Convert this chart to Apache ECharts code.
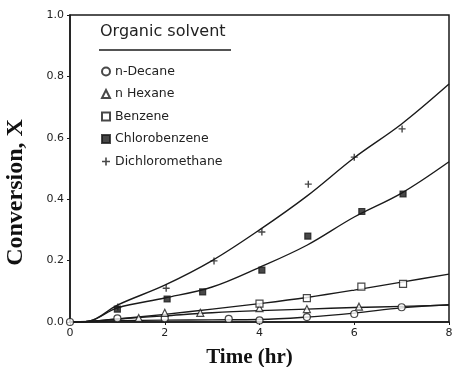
<!DOCTYPE html>
<html>
<head>
<meta charset="utf-8">
<script src="https://cdn.jsdelivr.net/npm/echarts@6/dist/echarts.min.js"></script>
<style>
  html, body { margin: 0; padding: 0; background: #fff; }
  #chart { width: 453px; height: 367px; }
</style>
</head>
<body>
<div id="chart"></div>
<script>
// Measured conversion data, [time (hr), conversion X]
const nDecanePts        = [[0, 0], [1, 0.012], [2, 0.012], [3.35, 0.01], [4, 0.005], [5, 0.016], [6, 0.026], [7, 0.048]];
const nHexanePts        = [[1.45, 0.013], [2, 0.03], [2.75, 0.03], [4, 0.045], [5, 0.042], [6.1, 0.05]];
const benzenePts        = [[4, 0.06], [5, 0.078], [6.15, 0.115], [7.03, 0.124]];
const chlorobenzenePts  = [[1, 0.042], [2.05, 0.075], [2.8, 0.098], [4.05, 0.169], [5.02, 0.28], [6.16, 0.36], [7.03, 0.417]];
const dichloromethanePts = [[1.01, 0.049], [2.03, 0.11], [3.04, 0.199], [4.05, 0.293], [5.03, 0.449], [6.0, 0.537], [7.01, 0.629]];

// Fitted curves
const nDecaneFit        = [[0, 0], [1, 0.004], [2, 0.006], [3, 0.007], [4, 0.008], [5, 0.016], [6, 0.029], [7, 0.046], [8, 0.056]];
const nHexaneFit        = [[0, 0], [0.4, 0.002], [1, 0.01], [2, 0.02], [3, 0.03], [4, 0.037], [5, 0.042], [6, 0.047], [7, 0.051], [8, 0.055]];
const benzeneFit        = [[0, 0], [0.4, 0.002], [1, 0.01], [2, 0.025], [3, 0.042], [4, 0.06], [5, 0.08], [6, 0.104], [7, 0.13], [8, 0.156]];
const chlorobenzeneFit  = [[0, 0], [0.4, 0.003], [1, 0.046], [2, 0.078], [3, 0.114], [4, 0.178], [5, 0.25], [6, 0.342], [7, 0.42], [8, 0.522]];
const dichloromethaneFit = [[0, 0], [0.4, 0.003], [1, 0.055], [2, 0.12], [3, 0.2], [4, 0.3], [5, 0.41], [6, 0.535], [7, 0.645], [8, 0.775]];

const solventNames = ['n-Decane', 'n Hexane', 'Benzene', 'Chlorobenzene', 'Dichloromethane'];
const xTickLabels = ['0', '2', '4', '6', '8'];
const yTickLabels = ['0.0', '0.2', '0.4', '0.6', '0.8', '1.0'];

const INK = '#1a1a1a';
const plusPath = 'path://M4,0H6V4H10V6H6V10H4V6H0V4H4Z';

const markerDefs = [
  { pts: nDecanePts, symbol: 'circle', size: 7, fill: '#fff' },
  { pts: nHexanePts, symbol: 'triangle', size: 7, fill: '#fff' },
  { pts: benzenePts, symbol: 'rect', size: 7, fill: '#fff' },
  { pts: chlorobenzenePts, symbol: 'rect', size: 6, fill: INK },
  { pts: dichloromethanePts, symbol: plusPath, size: 7, fill: INK }
];
const fits = [nDecaneFit, nHexaneFit, benzeneFit, chlorobenzeneFit, dichloromethaneFit];

const series = [];
fits.forEach(function (f) {
  series.push({
    type: 'line', data: f, smooth: 0.35, showSymbol: false, silent: true,
    lineStyle: { color: INK, width: 1.4 }, z: 2
  });
});
markerDefs.forEach(function (m, i) {
  const isPlus = m.symbol === plusPath;
  series.push({
    name: solventNames[i], type: 'scatter', data: m.pts,
    symbol: m.symbol, symbolSize: m.size, z: 3,
    itemStyle: {
      color: m.fill,
      borderColor: INK,
      borderWidth: isPlus ? 0 : 1.2
    }
  });
});

const chart = echarts.init(document.getElementById('chart'), null, { renderer: 'canvas' });
chart.setOption({
  animation: false,
  backgroundColor: '#fff',
  grid: {
    left: 70, right: 4, top: 15, bottom: 45, containLabel: false, outerBoundsMode: 'none',
    show: true, borderColor: INK, borderWidth: 1.5, backgroundColor: 'transparent'
  },
  xAxis: {
    type: 'value', min: 0, max: 8, interval: 2,
    name: 'Time (hr)', nameLocation: 'middle', nameGap: 25,
    nameTextStyle: { fontFamily: 'Liberation Serif', fontWeight: 'bold', fontSize: 21, color: '#111', padding: [0, 20, 0, 0] },
    axisLine: { show: true, lineStyle: { color: INK, width: 1.5 } },
    axisTick: { show: true, length: 3, lineStyle: { color: INK } },
    splitLine: { show: false },
    axisLabel: {
      margin: 6, fontFamily: 'DejaVu Sans', fontSize: 11, color: '#222',
      formatter: function (v) { return xTickLabels[Math.round(v / 2)]; }
    }
  },
  yAxis: {
    type: 'value', min: 0, max: 1, interval: 0.2,
    name: 'Conversion, X', nameLocation: 'middle', nameGap: 42, nameRotate: 90,
    nameTextStyle: { fontFamily: 'Liberation Serif', fontWeight: 'bold', fontSize: 24, color: '#111', padding: [0, 48, 0, 0] },
    axisLine: { show: true, lineStyle: { color: INK, width: 1.5 } },
    axisTick: { show: true, length: 3, lineStyle: { color: INK } },
    splitLine: { show: false },
    axisLabel: {
      margin: 6, fontFamily: 'DejaVu Sans', fontSize: 11, color: '#222',
      formatter: function (v) { return yTickLabels[Math.round(v / 0.2)]; }
    }
  },
  legend: {
    data: solventNames,
    orient: 'vertical', left: 101, top: 65,
    itemWidth: 8, itemHeight: 8, itemGap: 9.5, padding: 0,
    selectedMode: false,
    textStyle: { fontFamily: 'DejaVu Sans', fontSize: 12.5, color: '#222', padding: [0, 0, 0, 0] }
  },
  graphic: [
    { type: 'text', left: 100, top: 24, style: { text: 'Organic solvent', font: '16px "DejaVu Sans"', fill: '#222' } },
    { type: 'line', shape: { x1: 99, y1: 50, x2: 231, y2: 50 }, style: { stroke: INK, lineWidth: 1.5 } }
  ],
  series: series
});
</script>
</body>
</html>
